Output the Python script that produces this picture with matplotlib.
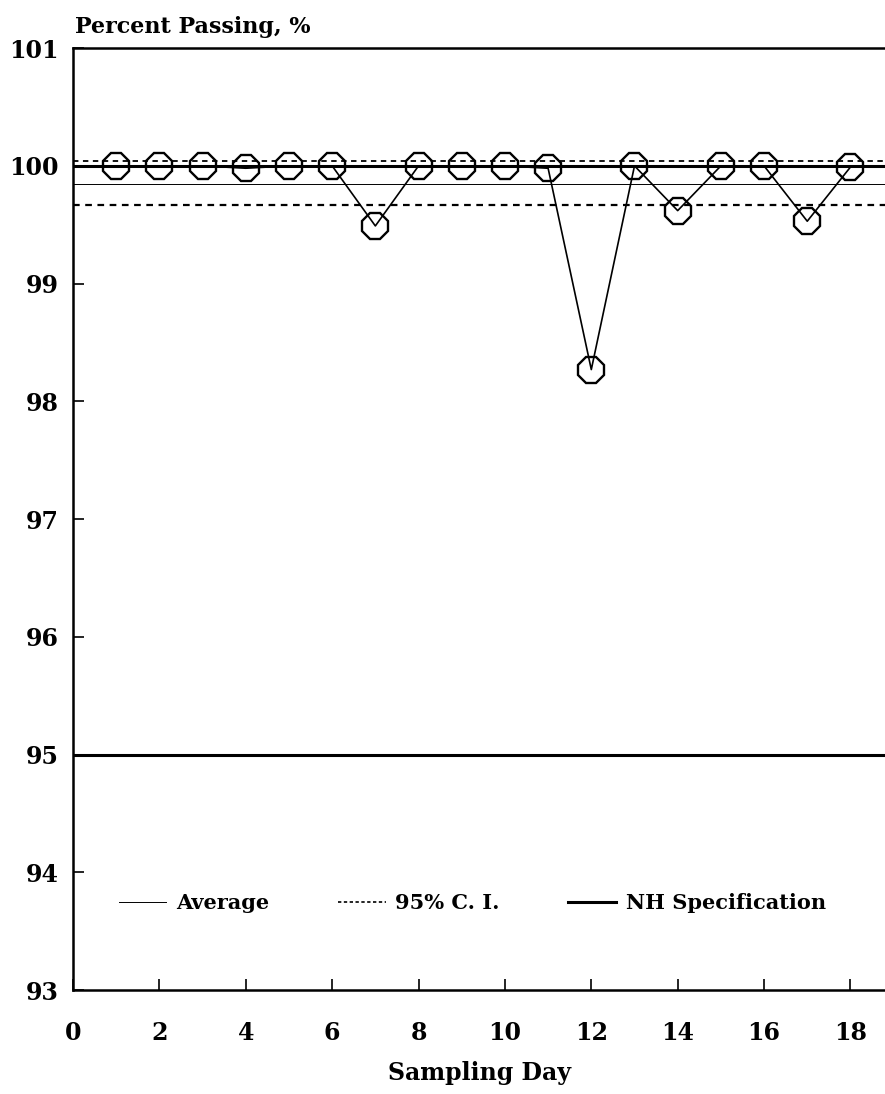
import numpy as np
import matplotlib
matplotlib.use("Agg")
import matplotlib.pyplot as plt
from matplotlib.lines import Line2D

# Daily percent passing results
days = [1, 2, 3, 4, 5, 6, 7, 8, 9, 10, 11, 12, 13, 14, 15, 16, 17, 18]
passing = [100, 100, 100, 99.98, 100, 100, 99.49, 100, 100, 100,
           99.98, 98.27, 100, 99.62, 100, 100, 99.53, 99.99]

# Summary lines
average = 99.85
ci_low = 99.67
ci_high = 100.04
spec_limits = [100, 95]

xticks = [0, 2, 4, 6, 8, 10, 12, 14, 16, 18]
yticks = [93, 94, 95, 96, 97, 98, 99, 100, 101]

plt.rcParams["font.family"] = "DejaVu Serif"
plt.rcParams["font.weight"] = "bold"

fig = plt.figure(figsize=(8.85, 10.94), dpi=100)
ax = fig.add_axes([0.0825, 0.095, 0.9175, 0.861])

ax.axhline(average, color="black", lw=0.7, zorder=2)
ax.axhline(ci_low, color="black", lw=1.6, ls=(0, (3, 2.5)), zorder=2)
ax.axhline(ci_high, color="black", lw=1.3, ls=(0, (3, 2.5)), zorder=2)
for s in spec_limits:
    ax.axhline(s, color="black", lw=2.2, zorder=2)

ax.plot(days, passing, color="black", lw=1.2, marker="8", ms=20,
        mfc="none", mec="black", mew=1.7, zorder=3)

ax.set_xlim(0, 18.8)
ax.set_ylim(93, 101)
ax.set_xticks(xticks)
ax.set_yticks(yticks)
ax.tick_params(direction="in", length=8, width=1.2, labelsize=17)
ax.tick_params(axis="x", pad=22)
ax.tick_params(axis="y", pad=10)
for side in ["left", "bottom", "top"]:
    ax.spines[side].set_linewidth(1.8)
ax.spines["right"].set_visible(False)

ax.set_xlabel("Sampling Day", fontsize=17, fontweight="bold", labelpad=12)
fig.text(0.085, 0.975, "Percent Passing, %", fontsize=16, fontweight="bold",
         ha="left", va="center")

handles = [Line2D([], [], color="black", lw=0.7),
           Line2D([], [], color="black", lw=1.2, ls=(0, (2, 1.5))),
           Line2D([], [], color="black", lw=2.2)]
ax.legend(handles, ["Average", "95% C. I.", "NH Specification"],
          loc="center left", bbox_to_anchor=(0.033, 0.092), ncol=3,
          frameon=False, fontsize=15, handlelength=2.3, handletextpad=0.45,
          columnspacing=3.3)

fig.savefig("out.png", dpi=100)
